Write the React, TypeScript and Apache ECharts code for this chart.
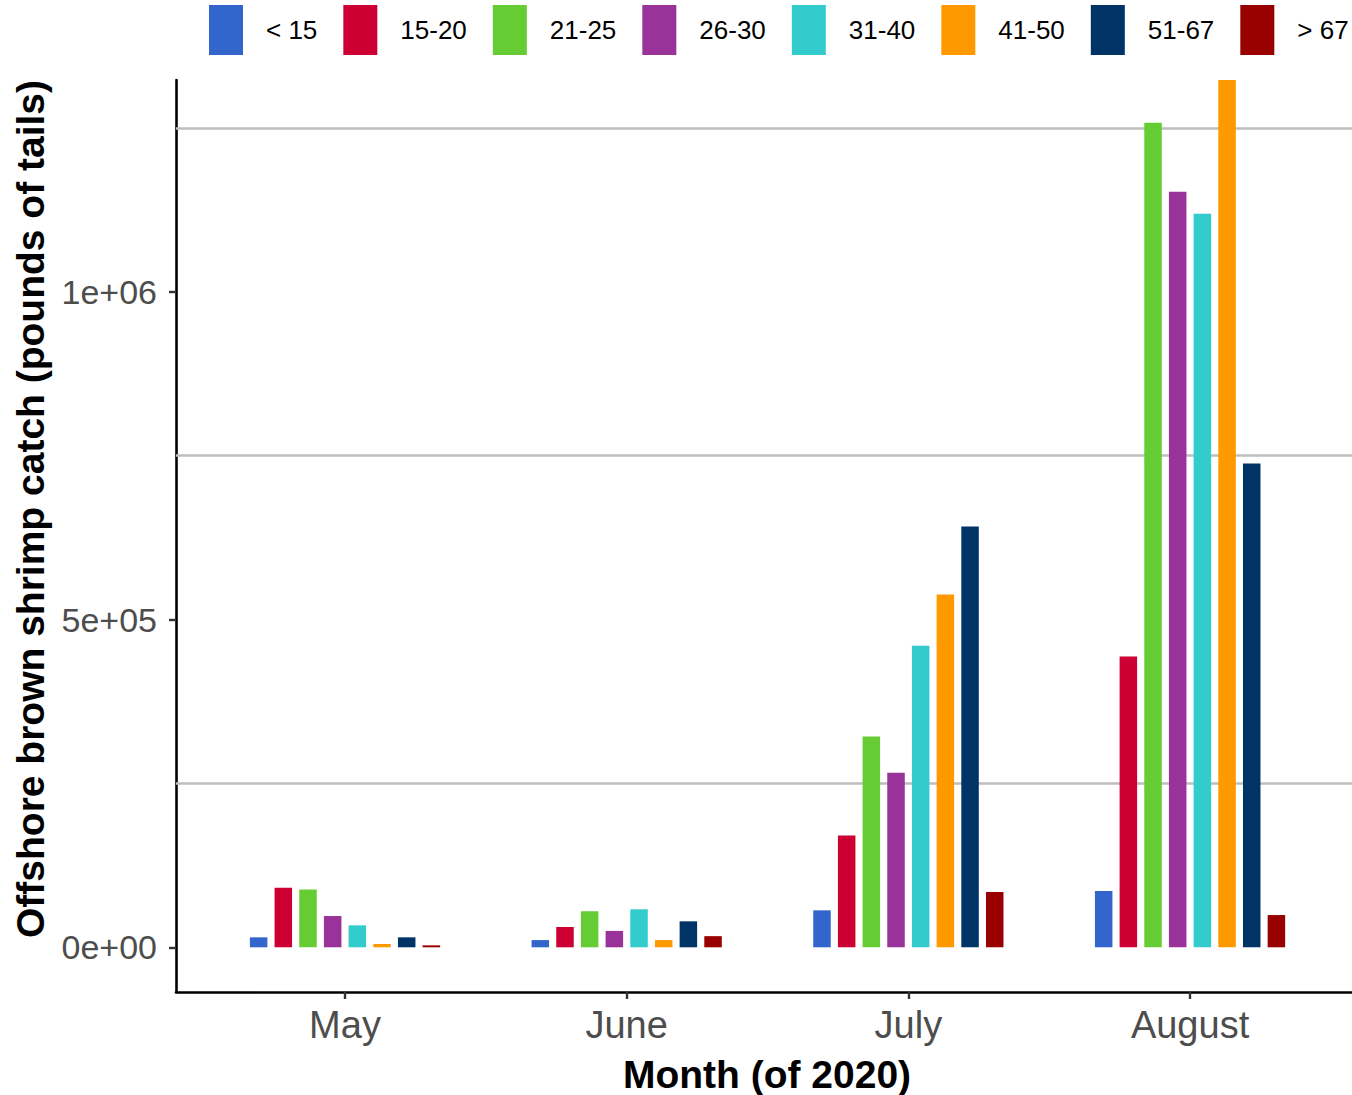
import React, { useEffect, useRef } from "react";
import * as echarts from "echarts";

const months = ["May", "June", "July", "August"];
const sizeClasses = ["< 15", "15-20", "21-25", "26-30", "31-40", "41-50", "51-67", "> 67"];
const classColors = ["#3366CC", "#CC0033", "#66CC33", "#993399", "#33CCCC", "#FF9900", "#003366", "#990000"];

// pounds of tails, per month (May, June, July, August)
const catchUnder15 = [15200, 11000, 56400, 85800];
const catch15to20 = [91000, 31000, 170700, 443600];
const catch21to25 = [88000, 55000, 321600, 1257600];
const catch26to30 = [47700, 25000, 266200, 1152400];
const catch31to40 = [33500, 58000, 459800, 1118900];
const catch41to50 = [5000, 11000, 538100, 1400000];
const catch51to67 = [15200, 39600, 641800, 737800];
const catchOver67 = [3000, 17000, 84300, 49200];

const seriesValues = [
  catchUnder15,
  catch15to20,
  catch21to25,
  catch26to30,
  catch31to40,
  catch41to50,
  catch51to67,
  catchOver67,
];

const yTickValues = [0, 500000, 1000000];
const yTickLabels = ["0e+00", "5e+05", "1e+06"];
const yGridValues = [250000, 750000, 1250000];
const monthTickValues = [0, 1, 2, 3];

const FONT = "'Liberation Sans', Arial, Helvetica, sans-serif";

export default function App() {
  const ref = useRef<HTMLDivElement>(null);

  useEffect(() => {
    document.body.style.margin = "0";
    if (!ref.current) return;
    const chart = echarts.init(ref.current, null, { renderer: "svg" });

    const series: any[] = sizeClasses.map((name, k) => ({
      type: "bar",
      name,
      data: seriesValues[k].map((v, i) => [i, v]),
      barWidth: 17.5,
      barGap: "41%",
      itemStyle: { color: classColors[k] },
      emphasis: { disabled: true },
      z: 3,
      ...(k === 0
        ? {
            markLine: {
              silent: true,
              z: 1,
              symbol: ["none", "none"],
              label: { show: false },
              lineStyle: { color: "#BEBEBE", width: 2.6, type: "solid" },
              data: yGridValues.map((v) => ({ yAxis: v })),
            },
          }
        : {}),
    }));

    chart.setOption({
      animation: false,
      textStyle: { fontFamily: FONT },
      grid: {
        left: 176,
        right: 0,
        top: 80,
        bottom: 103,
        containLabel: false,
        outerBoundsMode: "none",
      },
      legend: {
        data: sizeClasses,
        left: 209,
        top: 5,
        width: 1250,
        padding: 0,
        itemWidth: 34,
        itemHeight: 50,
        itemGap: 26,
        icon: "rect",
        selectedMode: false,
        textStyle: {
          fontFamily: FONT,
          fontSize: 26,
          color: "#000000",
          padding: [0, 0, 5, 18],
        },
      },
      xAxis: {
        type: "value",
        min: -0.6,
        max: 3.575,
        axisLine: { show: true, onZero: false, lineStyle: { color: "#000000", width: 2.6 } },
        axisTick: {
          show: true,
          customValues: monthTickValues,
          length: 7,
          lineStyle: { color: "#333333", width: 2.4 },
        },
        axisLabel: {
          show: true,
          customValues: monthTickValues,
          formatter: (v: number) => months[Math.round(v)] ?? "",
          fontFamily: FONT,
          fontSize: 38,
          color: "#4D4D4D",
          margin: 14,
        },
        splitLine: { show: false },
      },
      yAxis: {
        type: "value",
        min: -68180,
        max: 1322910,
        axisLine: { show: true, onZero: false, lineStyle: { color: "#000000", width: 2.6 } },
        axisTick: {
          show: true,
          customValues: yTickValues,
          length: 7,
          lineStyle: { color: "#333333", width: 2.4 },
        },
        axisLabel: {
          show: true,
          customValues: yTickValues,
          formatter: (v: number) => {
            const idx = yTickValues.indexOf(v);
            return idx >= 0 ? yTickLabels[idx] : "";
          },
          fontFamily: FONT,
          fontSize: 34,
          color: "#4D4D4D",
          margin: 19,
        },
        splitLine: { show: false },
      },
      graphic: [
        {
          type: "text",
          x: 30,
          y: 509,
          rotation: Math.PI / 2,
          style: {
            text: "Offshore brown shrimp catch (pounds of tails)",
            font: `bold 39px ${FONT}`,
            fill: "#000000",
            textAlign: "center",
            textVerticalAlign: "middle",
          },
        },
        {
          type: "text",
          x: 767,
          y: 1074,
          style: {
            text: "Month (of 2020)",
            font: `bold 39px ${FONT}`,
            fill: "#000000",
            textAlign: "center",
            textVerticalAlign: "middle",
          },
        },
      ],
      series,
    });

    return () => {
      chart.dispose();
    };
  }, []);

  return <div ref={ref} style={{ width: 1352, height: 1095 }} />;
}
